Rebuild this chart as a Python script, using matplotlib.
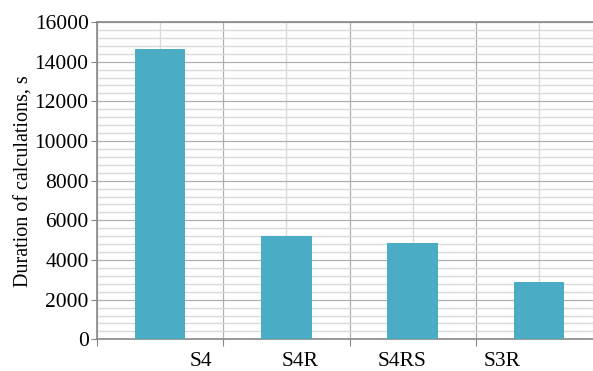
import matplotlib.pyplot as plt
from matplotlib.ticker import MultipleLocator

schemes = ['S4', 'S4R', 'S4RS', 'S3R']
duration = [14620, 5210, 4870, 2900]

label_pos = [0.32, 1.11, 1.92, 2.71]      # labels are shifted in the original

plt.rcParams['font.family'] = ['Liberation Serif', 'DejaVu Serif']

fig = plt.figure(figsize=(5.93, 3.71), dpi=100)
ax = fig.add_axes([97/593, (371-339.3)/371, 505/593, 317.3/371])

x = list(range(len(schemes)))
ax.bar(x, duration, width=0.4, color='#4BACC6', zorder=3)

ax.set_xlim(-0.5, len(schemes)-0.5)
ax.set_ylim(0, 16000)
ax.yaxis.set_major_locator(MultipleLocator(2000))
ax.yaxis.set_minor_locator(MultipleLocator(400))
ax.set_xticks([i-0.5 for i in range(len(schemes)+1)])
ax.set_xticks(x, minor=True)
ax.set_xticklabels([])
ax.grid(which='major', color='#b0b0b0', lw=0.9, zorder=0)
ax.grid(which='minor', color='#dadada', lw=1.0, zorder=0)

ax.tick_params(axis='y', which='major', labelsize=15.5, length=4, color='#888888', pad=2)
ax.tick_params(axis='y', which='minor', length=0)
ax.tick_params(axis='x', which='major', length=5, color='#888888')
ax.tick_params(axis='x', which='minor', length=0)

for s in ['top', 'bottom', 'left']:
    ax.spines[s].set_color('#888888')
    ax.spines[s].set_linewidth(1.2)
ax.spines['right'].set_visible(False)

for px, lab in zip(label_pos, schemes):
    ax.text(px, -1100, lab, ha='center', va='center', fontsize=15.5)

ax.set_ylabel('Duration of calculations, s', fontsize=14.5, labelpad=1)

fig.savefig('out.png', dpi=100)
